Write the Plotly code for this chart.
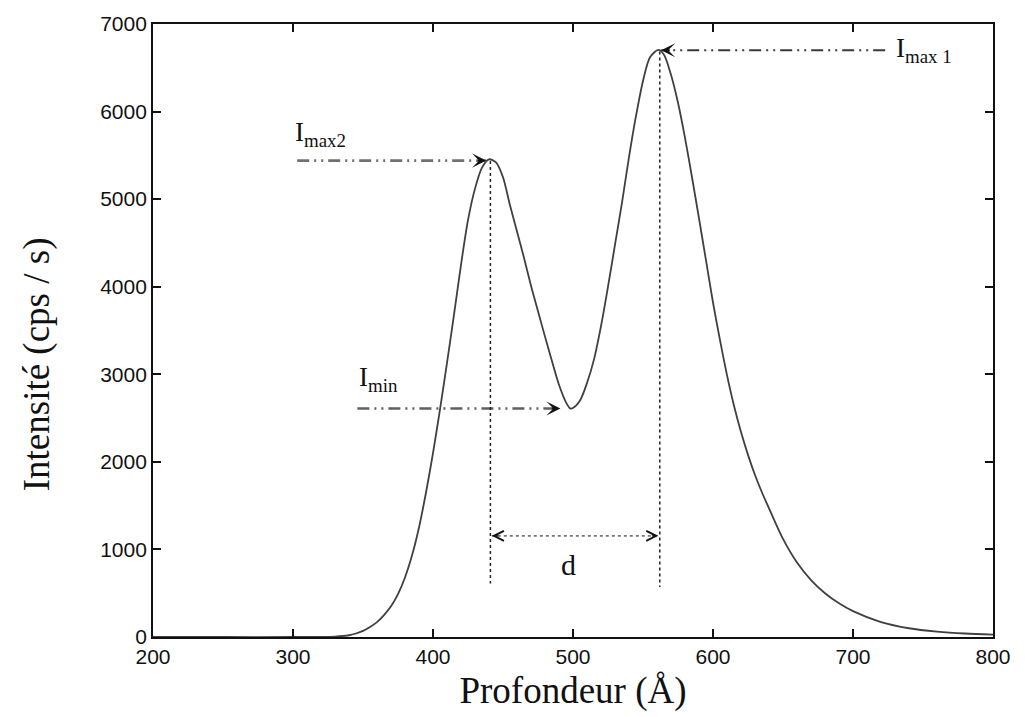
import numpy as np
import plotly.graph_objects as go

# ---- data ----
depth = [200, 250, 300, 330, 340, 345, 350, 355, 360, 365, 370, 375, 380, 385, 390, 395, 400,
         405, 410, 415, 420, 425, 430, 435, 440, 445, 450, 455, 460, 465, 470, 475,
         480, 485, 490, 495, 498, 500, 505, 510, 515, 520, 525, 530, 535, 540, 545,
         550, 555, 561, 565, 570, 575, 580, 585, 590, 595, 600, 605, 610, 615, 620,
         625, 630, 635, 640, 650, 660, 670, 680, 690, 700, 720, 740, 760, 780, 800]
intensity = [0, 0, 0, 5, 20, 40, 70, 115, 170, 250, 350, 490, 680, 930, 1250, 1650, 2100,
             2600, 3130, 3680, 4250, 4760, 5120, 5360, 5455, 5420, 5250, 4930, 4630, 4330, 4010, 3720,
             3430, 3150, 2880, 2680, 2610, 2615, 2700, 2900, 3170, 3550, 4000, 4480, 4960, 5480, 5950,
             6350, 6620, 6705, 6650, 6420, 6100, 5700, 5250, 4780, 4300, 3820, 3390, 2990, 2640, 2340,
             2080, 1850, 1650, 1470, 1120, 850, 650, 500, 385, 295, 170, 100, 62, 40, 28]

x_ticks = [200, 300, 400, 500, 600, 700, 800]
y_ticks = [0, 1000, 2000, 3000, 4000, 5000, 6000, 7000]

# annotation anchor values (start of the dash-dot arrows, level of "d")
imax2_start_x = 303
imin_start_x = 346
imax1_start_x = 723
d_level = 1155
vline_bottom = [610, 570]

x = np.array(depth, dtype=float)
y = np.array(intensity, dtype=float)

# locate features from the data
i1 = int(np.argmax(np.where(x > 500, y, -1)))
i2 = int(np.argmax(np.where(x < 500, y, -1)))
imn = int(np.argmin(np.where((x > 450) & (x < 550), y, 1e9)))
pk1 = (x[i1], y[i1])
pk2 = (x[i2], y[i2])
mn = (x[imn], y[imn])

serif = "Liberation Serif, Times New Roman, serif"
sans = "Liberation Sans, Arial, sans-serif"
dashdot = "12px,5px,2px,5px,2px,5px"

fig = go.Figure()

fig.add_trace(go.Scatter(x=depth, y=intensity, mode="lines",
                         line=dict(color="#404040", width=1.8, shape="spline", smoothing=0.8),
                         hoverinfo="skip", showlegend=False))

# dash-dot arrow shafts
for (xs, xe, yy, col, w) in [(imax2_start_x, pk2[0] - 2, pk2[1] - 15, "#707070", 2.6),
                             (imin_start_x, mn[0] - 7, mn[1], "#606060", 2.6),
                             (imax1_start_x, pk1[0] + 2, pk1[1] - 5, "#3a3a3a", 2.2)]:
    fig.add_trace(go.Scatter(x=[xs, xe], y=[yy, yy], mode="lines",
                             line=dict(color=col, width=w, dash=dashdot),
                             hoverinfo="skip", showlegend=False))

# vertical dotted lines at the peaks
for (px_, py_), yb in zip([pk2, pk1], vline_bottom):
    fig.add_trace(go.Scatter(x=[px_ + 1, px_ + 1], y=[py_ - 20, yb], mode="lines",
                             line=dict(color="#222222", width=1.5, dash="dot"),
                             hoverinfo="skip", showlegend=False))

# horizontal dotted line for d
fig.add_trace(go.Scatter(x=[pk2[0] + 2, pk1[0]], y=[d_level, d_level], mode="lines",
                         line=dict(color="#777777", width=1.8, dash="dot"),
                         hoverinfo="skip", showlegend=False))

ann = []
# arrowheads (short solid shafts under the dashed lines)
ann.append(dict(x=pk2[0] - 2, y=pk2[1] - 15, ax=-10, ay=0, xref="x", yref="y",
                showarrow=True, arrowhead=3, arrowsize=1.3, arrowwidth=1.8,
                arrowcolor="#111111", text=""))
ann.append(dict(x=mn[0] - 7, y=mn[1], ax=-10, ay=0, xref="x", yref="y",
                showarrow=True, arrowhead=3, arrowsize=1.3, arrowwidth=1.8,
                arrowcolor="#111111", text=""))
ann.append(dict(x=pk1[0] + 2, y=pk1[1] - 5, ax=10, ay=0, xref="x", yref="y",
                showarrow=True, arrowhead=3, arrowsize=1.3, arrowwidth=1.8,
                arrowcolor="#111111", text=""))
ann.append(dict(x=pk2[0] + 2, y=d_level, ax=8, ay=0, xref="x", yref="y",
                showarrow=True, arrowhead=5, arrowsize=1.4, arrowwidth=1.4,
                arrowcolor="#111111", text=""))
ann.append(dict(x=pk1[0], y=d_level, ax=-8, ay=0, xref="x", yref="y",
                showarrow=True, arrowhead=5, arrowsize=1.4, arrowwidth=1.4,
                arrowcolor="#111111", text=""))

# labels
ann.append(dict(x=imax2_start_x - 3, y=pk2[1] + 75, xref="x", yref="y", xanchor="left",
                yanchor="bottom", showarrow=False, text="I<sub>max2</sub>",
                font=dict(family=serif, size=27, color="#111111")))
ann.append(dict(x=imin_start_x, y=mn[1] + 120, xref="x", yref="y", xanchor="left",
                yanchor="bottom", showarrow=False, text="I<sub>min</sub>",
                font=dict(family=serif, size=27, color="#111111")))
ann.append(dict(x=imax1_start_x + 6, y=pk1[1] - 5, xref="x", yref="y", xanchor="left",
                yanchor="middle", showarrow=False, text="I<sub>max 1</sub>",
                font=dict(family=serif, size=27, color="#111111")))
ann.append(dict(x=(pk1[0] + pk2[0]) / 2 - 4, y=d_level - 120, xref="x", yref="y",
                xanchor="center", yanchor="top", showarrow=False, text="d",
                font=dict(family=serif, size=30, color="#111111")))

# y-axis title as annotation
ann.append(dict(x=-0.138, y=0.445, xref="paper", yref="paper", xanchor="center",
                yanchor="middle", showarrow=False, textangle=-90,
                text="Intensité (cps / s)",
                font=dict(family=serif, size=37, color="#111111")))

fig.update_layout(
    width=1025, height=717,
    margin=dict(l=153, r=32, t=20, b=80),
    paper_bgcolor="white", plot_bgcolor="white",
    annotations=ann,
    showlegend=False,
    xaxis=dict(range=[200, 800], tickvals=x_ticks, ticktext=[str(v) for v in x_ticks],
               ticks="inside", ticklen=8, tickwidth=1.5, tickcolor="#111111",
               showline=True, linecolor="#111111", linewidth=1.8, mirror="ticks",
               showgrid=False, zeroline=False,
               tickfont=dict(family=sans, size=21, color="#111111"),
               title=dict(text="Profondeur (Å)", standoff=10,
                          font=dict(family=serif, size=37, color="#111111"))),
    yaxis=dict(range=[0, 7000], tickvals=y_ticks, ticktext=[str(v) for v in y_ticks],
               ticks="inside", ticklen=8, tickwidth=1.5, tickcolor="#111111",
               showline=True, linecolor="#111111", linewidth=1.8, mirror="ticks",
               showgrid=False, zeroline=False,
               tickfont=dict(family=sans, size=21, color="#111111")),
)

fig.write_html("out.html")
